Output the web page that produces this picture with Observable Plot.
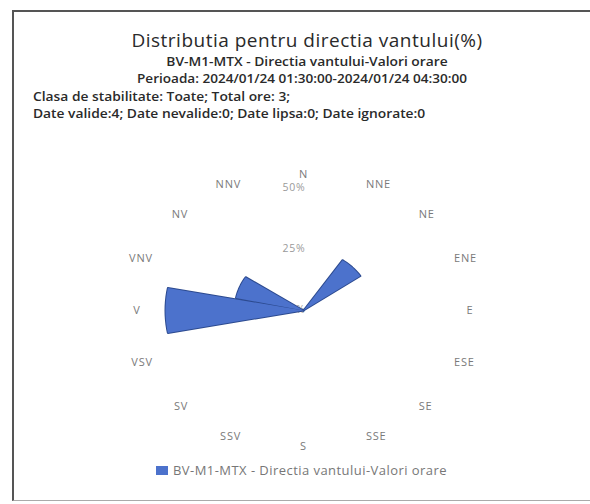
<!DOCTYPE html>
<html>
<head>
<meta charset="utf-8">
<script src="https://cdn.jsdelivr.net/npm/d3@7"></script>
<script src="https://cdn.jsdelivr.net/npm/@observablehq/plot@0.6"></script>
<style>
  html, body { margin: 0; padding: 0; background: #fff; }
  #wrap { position: relative; width: 590px; height: 504px; overflow: hidden; font-family: "Open Sans", sans-serif; }
  #frame { position: absolute; left: 12px; top: 10px; width: 590px; height: 491px;
           border-left: 2px solid #555; border-top: 2px solid #555; border-bottom: 1px solid #aaa; box-sizing: border-box; }
  .t { position: absolute; white-space: nowrap; color: #2a2a2a; }
  .c { left: 0; width: 614px; text-align: center; }
  .s { font-size: 12px; line-height: 16px; font-weight: 600; transform: scaleX(1.15); }
  .l { transform-origin: 0 50%; }
  #chart { position: absolute; left: 0; top: 0; }
  #legend { position: absolute; left: 156px; top: 461px; display: flex; align-items: center; font-size: 13px; letter-spacing: 0.45px; color: #777; }
  #legend .sw { width: 12px; height: 9px; background: #4c72cc; margin-right: 5px; }
</style>
</head>
<body>
<div id="wrap">
  <div id="frame"></div>
  <div id="chart"></div>
  <div class="t c" id="title" style="top:27px;font-size:19px;line-height:26px;letter-spacing:0.5px;"></div>
  <div class="t c s" id="sub1" style="top:53.5px;"></div>
  <div class="t c s" id="sub2" style="top:70.5px;left:-5px;transform:scaleX(1.13);"></div>
  <div class="t s l" id="info1" style="left:33px;top:88.5px;"></div>
  <div class="t s l" id="info2" style="left:33px;top:105.5px;"></div>
  <div id="legend"><div class="sw"></div><span id="legtext"></span></div>
</div>
<script>
const titleText = "Distributia pentru directia vantului(%)";
const seriesName = "BV-M1-MTX - Directia vantului-Valori orare";
const periodText = "Perioada: 2024/01/24 01:30:00-2024/01/24 04:30:00";
const infoLine1 = "Clasa de stabilitate: Toate; Total ore: 3;";
const infoLine2 = "Date valide:4; Date nevalide:0; Date lipsa:0; Date ignorate:0";

const directions = ["N","NNE","NE","ENE","E","ESE","SE","SSE","S","SSV","SV","VSV","V","VNV","NV","NNV"];
const values =     [0,   0,    25,  0,    0,  0,    0,   0,    0,  0,    0,   0,    50, 25,   0,   0];
const radialTicks = [0, 25, 50];
const radialTickLabels = ["0%", "25%", "50%"];

document.getElementById("title").textContent = titleText;
document.getElementById("sub1").textContent = seriesName;
document.getElementById("sub2").textContent = periodText;
document.getElementById("info1").textContent = infoLine1;
document.getElementById("info2").textContent = infoLine2;
document.getElementById("legtext").textContent = seriesName;

const rad = d => d * Math.PI / 180;
const step = 360 / directions.length;
const halfWidth = step * 0.47;

// wedge polygons built from the data
const wedgePts = [];
directions.forEach((dir, i) => {
  const v = values[i];
  if (!(v > 0)) return;
  const c = i * step;
  wedgePts.push({dir, x: 0, y: 0});
  const n = 10;
  for (let k = 0; k <= n; k++) {
    const a = rad(c - halfWidth + (2 * halfWidth) * k / n);
    wedgePts.push({dir, x: v * Math.sin(a), y: v * Math.cos(a)});
  }
});

// compass labels (anchor point on an ellipse outside the plot)
const labelData = directions.map((dir, i) => {
  const a = rad(i * step);
  const s = Math.sin(a), c = Math.cos(a);
  const side = Math.abs(s) < 1e-6 ? 0 : Math.sign(s);
  return {dir, side, x: s * 163 / 138 * 50, y: c * 136 / 122 * 50};
});

const tickData = radialTicks.map((v, i) => ({v, label: radialTickLabels[i]}));

const labelStyle = {x: "x", y: "y", text: "dir", fontSize: 11, fill: "#7a7a7a"};

const chart = Plot.plot({
  width: 590,
  height: 504,
  margin: 0,
  x: {domain: [-50, 50], range: [303 - 138, 303 + 138], axis: null},
  y: {domain: [-50, 50], range: [310 + 122, 310 - 122], axis: null},
  style: {fontFamily: "Open Sans, sans-serif", background: "transparent", letterSpacing: "0.8px"},
  marks: [
    Plot.text(tickData, {x: 0, y: "v", text: "label", textAnchor: "end", dx: 2, dy: -1, fontSize: 10.5, fill: "#9a9a9a"}),
    Plot.text(labelData.filter(d => d.side > 0), {...labelStyle, textAnchor: "start"}),
    Plot.text(labelData.filter(d => d.side < 0), {...labelStyle, textAnchor: "end"}),
    Plot.text(labelData.filter(d => d.side === 0), {...labelStyle, textAnchor: "middle"}),
    Plot.line(wedgePts, {x: "x", y: "y", z: "dir", curve: "linear-closed", stroke: "#2c4a8f", strokeWidth: 2}),
    Plot.line(wedgePts, {x: "x", y: "y", z: "dir", curve: "linear-closed", fill: "#4c72cc", stroke: "none"})
  ]
});
document.getElementById("chart").appendChild(chart);
</script>
</body>
</html>
